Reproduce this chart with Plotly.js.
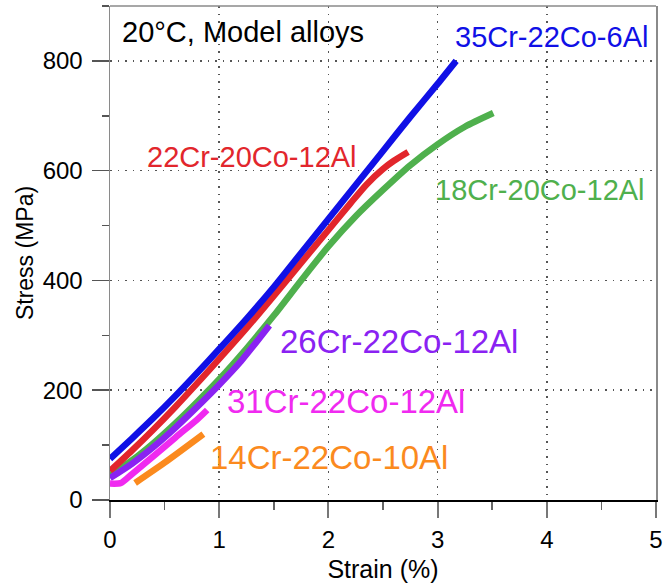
<!DOCTYPE html>
<html>
<head>
<meta charset="utf-8">
<script src="https://cdn.plot.ly/plotly-3.0.1.min.js"></script>
<style>
  html, body { margin: 0; padding: 0; background: #fff; }
  #chart { width: 671px; height: 588px; }
</style>
</head>
<body>
<div id="chart"></div>
<script>
// ---- Data (strain in %, stress in MPa) ----
const alloyNames = ["18Cr-20Co-12Al", "22Cr-20Co-12Al", "35Cr-22Co-6Al",
                    "26Cr-22Co-12Al", "31Cr-22Co-12Al", "14Cr-22Co-10Al"];

const strain18Cr = [0, 0.2, 0.4, 0.6, 0.8, 1.0, 1.25, 1.5, 1.75, 2.0, 2.25, 2.5, 2.75, 3.0, 3.25, 3.51];
const stress18Cr = [45, 72, 104, 140, 179, 220, 276, 336, 400, 462, 517, 565, 610, 648, 680, 705];

const strain22Cr = [0, 0.2, 0.4, 0.6, 0.8, 1.0, 1.25, 1.5, 1.75, 2.0, 2.2, 2.35, 2.5, 2.6, 2.73];
const stress22Cr = [53, 90, 129, 170, 213, 257, 313, 372, 432, 492, 540, 575, 603, 618, 634];

const strain35Cr = [0, 0.2, 0.4, 0.6, 0.8, 1.0, 1.25, 1.5, 1.75, 2.0, 2.25, 2.5, 2.75, 3.0, 3.17];
const stress35Cr = [75, 112, 150, 190, 232, 275, 330, 388, 450, 512, 574, 636, 698, 758, 800];

const strain26Cr = [0, 0.2, 0.4, 0.6, 0.8, 1.0, 1.2, 1.46];
const stress26Cr = [40, 66, 97, 132, 170, 210, 253, 318];

const strain31Cr = [0, 0.1, 0.2, 0.4, 0.6, 0.8, 0.89];
const stress31Cr = [30, 31, 47, 80, 114, 147, 164];

const strain14Cr = [0.23, 0.5, 0.855];
const stress14Cr = [31, 68, 120];

const yTickVals = [0, 200, 400, 600, 800];
const xTickVals = [0, 1, 2, 3, 4, 5];

// ---- Styles ----
const FONT = "Liberation Sans, Arial, Helvetica, sans-serif";
const colors = ["#4fb04d", "#e2262c", "#1010e6", "#8a22f2", "#f02af0", "#fb8a1e"];
const series = [
  [strain18Cr, stress18Cr],
  [strain22Cr, stress22Cr],
  [strain35Cr, stress35Cr],
  [strain26Cr, stress26Cr],
  [strain31Cr, stress31Cr],
  [strain14Cr, stress14Cr]
];

const traces = series.map((s, i) => ({
  x: s[0], y: s[1], name: alloyNames[i],
  type: "scatter", mode: "lines",
  line: { color: colors[i], width: 6.5, shape: "spline", smoothing: 0.7 },
  hoverinfo: "skip"
}));

// label positions (data coords) and sizes
const labelPos = [
  { x: 3.94, y: 565, s: 29 },
  { x: 1.30, y: 624, s: 29 },
  { x: 4.04, y: 843, s: 29 },
  { x: 2.65, y: 288, s: 33 },
  { x: 2.16, y: 180, s: 33 },
  { x: 2.01, y: 77, s: 33 }
];

const annotations = alloyNames.map((n, i) => ({
  text: n, x: labelPos[i].x, y: labelPos[i].y, xref: "x", yref: "y",
  xanchor: "center", yanchor: "middle", showarrow: false,
  font: { family: FONT, size: labelPos[i].s, color: colors[i] }
}));
annotations.push({
  text: "20°C, Model alloys", x: 1.22, y: 853, xref: "x", yref: "y",
  xanchor: "center", yanchor: "middle", showarrow: false,
  font: { family: FONT, size: 29, color: "#000" }
});

const layout = {
  width: 671, height: 588,
  margin: { l: 110, r: 15, t: 6, b: 88 },
  paper_bgcolor: "#fff", plot_bgcolor: "#fff",
  showlegend: false,
  font: { family: FONT, color: "#000" },
  xaxis: {
    range: [0, 5], tickmode: "array", tickvals: xTickVals, ticktext: xTickVals.map(String),
    showline: true, linecolor: "#000", linewidth: 1.5, mirror: false,
    ticks: "outside", ticklen: 16, tickwidth: 1.8, tickcolor: "#777",
    ticklabelstandoff: 2,
    tickfont: { family: FONT, size: 24, color: "#000" },
    showgrid: true, gridcolor: "#555", gridwidth: 1.5, griddash: "1.5px,6px",
    zeroline: false,
    minor: { dtick: 0.5, ticks: "outside", ticklen: 8, tickwidth: 1.5, tickcolor: "#666", showgrid: false },
    title: { text: "Strain (%)", font: { family: FONT, size: 25, color: "#000" }, standoff: 8 }
  },
  yaxis: {
    range: [0, 900], tickmode: "array", tickvals: yTickVals, ticktext: yTickVals.map(String),
    showline: true, linecolor: "#8a8a8a", linewidth: 1.5, mirror: true,
    ticks: "outside", ticklen: 17, tickwidth: 1.5, tickcolor: "#555",
    ticklabelstandoff: 4,
    tickfont: { family: FONT, size: 24, color: "#000" },
    showgrid: true, gridcolor: "#555", gridwidth: 1.5, griddash: "1.5px,6px",
    zeroline: false,
    minor: { dtick: 100, ticks: "outside", ticklen: 7, tickwidth: 1.5, tickcolor: "#555", showgrid: false },
    title: { text: "Stress (MPa)", font: { family: FONT, size: 23, color: "#000" }, standoff: 2 }
  },
  shapes: [{
    type: "line", xref: "paper", yref: "paper", x0: 0, x1: 1, y0: 1, y1: 1,
    line: { color: "#8a8a8a", width: 1.5 }, layer: "above"
  }],
  annotations: annotations
};

Plotly.newPlot("chart", traces, layout, { staticPlot: true, displayModeBar: false });
</script>
</body>
</html>
